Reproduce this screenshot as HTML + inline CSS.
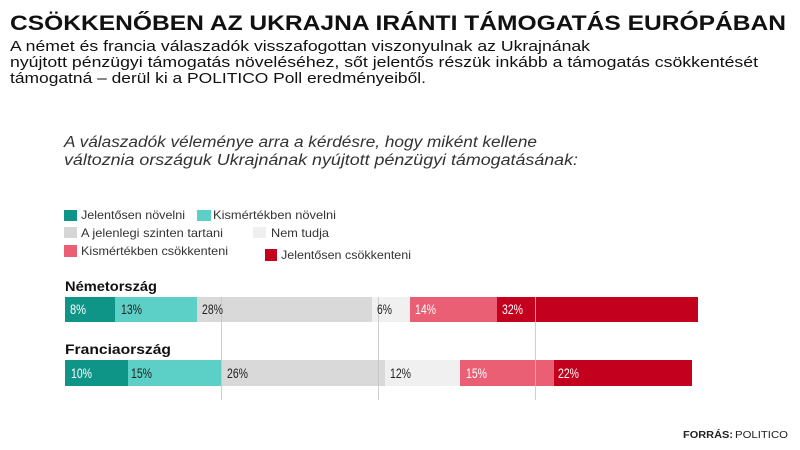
<!DOCTYPE html>
<html>
<head>
<meta charset="utf-8">
<style>
html,body{margin:0;padding:0;background:#fff;}
svg{display:block;}
text{font-family:"Liberation Sans","DejaVu Sans",sans-serif;}
</style>
</head>
<body>
<svg width="800" height="450" viewBox="0 0 800 450" xmlns="http://www.w3.org/2000/svg">
<rect width="800" height="450" fill="#fff"/>
<!-- Title -->
<text x="10" y="30" font-size="21" font-weight="bold" fill="#111" textLength="776" lengthAdjust="spacingAndGlyphs">CSÖKKENŐBEN AZ UKRAJNA IRÁNTI TÁMOGATÁS EURÓPÁBAN</text>
<!-- Subtitle -->
<text x="10" y="51" font-size="15" fill="#111" textLength="580" lengthAdjust="spacingAndGlyphs">A német és francia válaszadók visszafogottan viszonyulnak az Ukrajnának</text>
<text x="10" y="67" font-size="15" fill="#111" textLength="748" lengthAdjust="spacingAndGlyphs">nyújtott pénzügyi támogatás növeléséhez, sőt jelentős részük inkább a támogatás csökkentését</text>
<text x="10" y="83" font-size="15" fill="#111" textLength="416" lengthAdjust="spacingAndGlyphs">támogatná – derül ki a POLITICO Poll eredményeiből.</text>
<!-- Question -->
<text x="64" y="147" font-size="15.5" font-style="italic" fill="#333" textLength="473" lengthAdjust="spacingAndGlyphs">A válaszadók véleménye arra a kérdésre, hogy miként kellene</text>
<text x="64" y="165" font-size="15.5" font-style="italic" fill="#333" textLength="514" lengthAdjust="spacingAndGlyphs">változnia országuk Ukrajnának nyújtott pénzügyi támogatásának:</text>
<!-- Legend -->
<rect x="64" y="210" width="13" height="11" fill="#0f9488"/>
<text x="81" y="219" font-size="12" fill="#333" textLength="104" lengthAdjust="spacingAndGlyphs">Jelentősen növelni</text>
<rect x="197" y="210" width="14" height="11" fill="#5ccfc6"/>
<text x="213" y="219" font-size="12" fill="#333" textLength="123" lengthAdjust="spacingAndGlyphs">Kismértékben növelni</text>
<rect x="64" y="227" width="13" height="11" fill="#d6d6d6"/>
<text x="81" y="237" font-size="12" fill="#333" textLength="142" lengthAdjust="spacingAndGlyphs">A jelenlegi szinten tartani</text>
<rect x="253" y="227" width="13" height="11" fill="#efefef"/>
<text x="271" y="237" font-size="12" fill="#333" textLength="58" lengthAdjust="spacingAndGlyphs">Nem tudja</text>
<rect x="64" y="245" width="13" height="12" fill="#ea5f74"/>
<text x="81" y="255" font-size="12" fill="#333" textLength="147" lengthAdjust="spacingAndGlyphs">Kismértékben csökkenteni</text>
<rect x="265" y="249" width="12" height="12" fill="#c4001f"/>
<text x="281" y="259" font-size="12" fill="#333" textLength="130" lengthAdjust="spacingAndGlyphs">Jelentősen csökkenteni</text>
<!-- Country labels -->
<text x="65" y="291" font-size="14" font-weight="bold" fill="#111" textLength="92" lengthAdjust="spacingAndGlyphs">Németország</text>
<text x="65" y="354" font-size="14" font-weight="bold" fill="#111" textLength="106" lengthAdjust="spacingAndGlyphs">Franciaország</text>
<!-- Germany bar -->
<rect x="65" y="297" width="50" height="25" fill="#0f9488"/>
<rect x="115" y="297" width="82" height="25" fill="#5ccfc6"/>
<rect x="197" y="297" width="175" height="25" fill="#d9d9d9"/>
<rect x="372" y="297" width="38" height="25" fill="#f0f0f0"/>
<rect x="410" y="297" width="87" height="25" fill="#ea5f74"/>
<rect x="497" y="297" width="201" height="25" fill="#c4001f"/>
<!-- France bar -->
<rect x="65" y="360" width="63" height="26" fill="#0f9488"/>
<rect x="128" y="360" width="93" height="26" fill="#5ccfc6"/>
<rect x="221" y="360" width="164" height="26" fill="#d9d9d9"/>
<rect x="385" y="360" width="75" height="26" fill="#f0f0f0"/>
<rect x="460" y="360" width="94" height="26" fill="#ea5f74"/>
<rect x="554" y="360" width="138" height="26" fill="#c4001f"/>
<!-- Gridlines -->
<g stroke="#c4c4c4" stroke-width="1" opacity="0.8">
<line x1="221.5" y1="297" x2="221.5" y2="400"/>
<line x1="378.5" y1="297" x2="378.5" y2="400"/>
<line x1="535.5" y1="297" x2="535.5" y2="400"/>
</g>
<!-- Germany labels -->
<g font-size="13.5">
<text x="70" y="314" fill="#fff" textLength="16" lengthAdjust="spacingAndGlyphs">8%</text>
<text x="121" y="314" fill="#222" textLength="21" lengthAdjust="spacingAndGlyphs">13%</text>
<text x="202" y="314" fill="#222" textLength="21" lengthAdjust="spacingAndGlyphs">28%</text>
<text x="377" y="314" fill="#222" textLength="15" lengthAdjust="spacingAndGlyphs">6%</text>
<text x="415" y="314" fill="#fff" textLength="21" lengthAdjust="spacingAndGlyphs">14%</text>
<text x="502" y="314" fill="#fff" textLength="21" lengthAdjust="spacingAndGlyphs">32%</text>
<!-- France labels -->
<text x="71" y="378" fill="#fff" textLength="21" lengthAdjust="spacingAndGlyphs">10%</text>
<text x="131" y="378" fill="#222" textLength="21" lengthAdjust="spacingAndGlyphs">15%</text>
<text x="227" y="378" fill="#222" textLength="21" lengthAdjust="spacingAndGlyphs">26%</text>
<text x="390" y="378" fill="#222" textLength="21" lengthAdjust="spacingAndGlyphs">12%</text>
<text x="466" y="378" fill="#fff" textLength="21" lengthAdjust="spacingAndGlyphs">15%</text>
<text x="558" y="378" fill="#fff" textLength="21" lengthAdjust="spacingAndGlyphs">22%</text>
</g>
<!-- Footer -->
<text x="683" y="438" font-size="10.5" font-weight="bold" fill="#222" textLength="50" lengthAdjust="spacingAndGlyphs">FORRÁS:</text>
<text x="735" y="438" font-size="10.5" fill="#222" textLength="53" lengthAdjust="spacingAndGlyphs">POLITICO</text>
</svg>
</body>
</html>
